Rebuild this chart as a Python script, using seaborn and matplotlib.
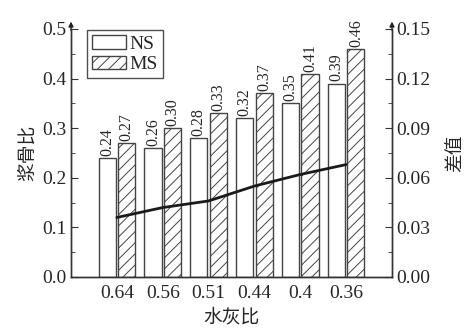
import numpy as np
import pandas as pd
import matplotlib
matplotlib.use("Agg")
import matplotlib.pyplot as plt
from matplotlib.patches import Patch
from matplotlib.ticker import MultipleLocator, FormatStrFormatter
import seaborn as sns

# Data
wc_ratio = ["0.64", "0.56", "0.51", "0.44", "0.4", "0.36"]
ns_values = [0.24, 0.26, 0.28, 0.32, 0.35, 0.39]
ms_values = [0.27, 0.30, 0.33, 0.37, 0.41, 0.46]
diff_values = [0.036, 0.042, 0.046, 0.055, 0.062, 0.068]

sns.set_style("ticks")
plt.rcParams['font.family'] = ['Liberation Serif', 'Noto Sans CJK SC']
plt.rcParams['hatch.linewidth'] = 0.7
plt.rcParams['hatch.color'] = '#333333'
cjk = ['Noto Sans CJK SC', 'Liberation Serif']

df = pd.DataFrame({
    "wc": wc_ratio * 2,
    "value": ns_values + ms_values,
    "type": ["NS"] * len(ns_values) + ["MS"] * len(ms_values),
})

fig = plt.figure(figsize=(4.69, 3.36), dpi=100)
ax = fig.add_axes([0.1514, 0.1756, 0.8358 - 0.1514, 0.9137 - 0.1756])

sns.barplot(data=df, x="wc", y="value", hue="type", ax=ax,
            width=0.85, gap=0.12, palette=["white", "white"],
            edgecolor="#444444", linewidth=1.0, legend=False)

for bar in ax.containers[1]:
    bar.set_hatch("///")

for cont in ax.containers:
    ax.bar_label(cont, fmt="%.2f", rotation=90, padding=1.5, fontsize=11.5)

ax.set_xlim(-1.0, 6.0)
ax.set_ylim(0, 0.5)
ax.yaxis.set_major_locator(MultipleLocator(0.1))
ax.yaxis.set_minor_locator(MultipleLocator(0.05))
ax.yaxis.set_major_formatter(FormatStrFormatter("%.1f"))
ax.tick_params(axis="y", which="both", direction="in", labelsize=14,
               color="#333333", pad=3)
ax.tick_params(axis="y", which="major", length=5)
ax.tick_params(axis="y", which="minor", length=3)
ax.tick_params(axis="x", length=0, labelsize=14, pad=6)
ax.set_xlabel("水灰比", fontsize=13.5, family=cjk, labelpad=3)
ax.set_ylabel("浆骨比", fontsize=13.5, family=cjk, labelpad=3)
sns.despine(ax=ax, top=True, right=False)

ax2 = ax.twinx()
sns.lineplot(x=np.arange(len(diff_values)), y=diff_values, ax=ax2,
             color="#1a1a1a", linewidth=2.0)
ax2.set_ylim(0, 0.15)
ax2.yaxis.set_major_locator(MultipleLocator(0.03))
ax2.yaxis.set_minor_locator(MultipleLocator(0.015))
ax2.yaxis.set_major_formatter(FormatStrFormatter("%.2f"))
ax2.tick_params(axis="y", which="both", direction="in", labelsize=14,
                color="#333333", pad=3)
ax2.tick_params(axis="y", which="major", length=5)
ax2.tick_params(axis="y", which="minor", length=3)
ax2.set_ylabel("差值", fontsize=13.5, family=cjk, labelpad=10)
ax2.spines["top"].set_visible(False)
ax.set_xlim(-1.0, 6.0)

for a in (ax, ax2):
    for s in a.spines.values():
        s.set_color("#333333")
        s.set_linewidth(1.0)

# arrow heads on the y axes
for xpos in (0, 1):
    ax.annotate("", xy=(xpos, 1.03), xytext=(xpos, 0.995),
                xycoords="axes fraction",
                arrowprops=dict(arrowstyle="-|>", color="#222222", lw=1.0,
                                mutation_scale=7, shrinkA=0, shrinkB=0))

handles = [Patch(facecolor="white", edgecolor="#444444", label="NS"),
           Patch(facecolor="white", edgecolor="#444444", hatch="///", label="MS")]
leg = ax.legend(handles=handles, loc="upper left",
                bbox_to_anchor=(0.05, 0.995), borderaxespad=0,
                fontsize=14, frameon=True, fancybox=False,
                handlelength=1.75, handleheight=0.7, handletextpad=0.2,
                labelspacing=0.15, borderpad=0.25)
leg.get_frame().set_edgecolor("#222222")
leg.get_frame().set_linewidth(1.0)

fig.savefig("out.png", dpi=100)
